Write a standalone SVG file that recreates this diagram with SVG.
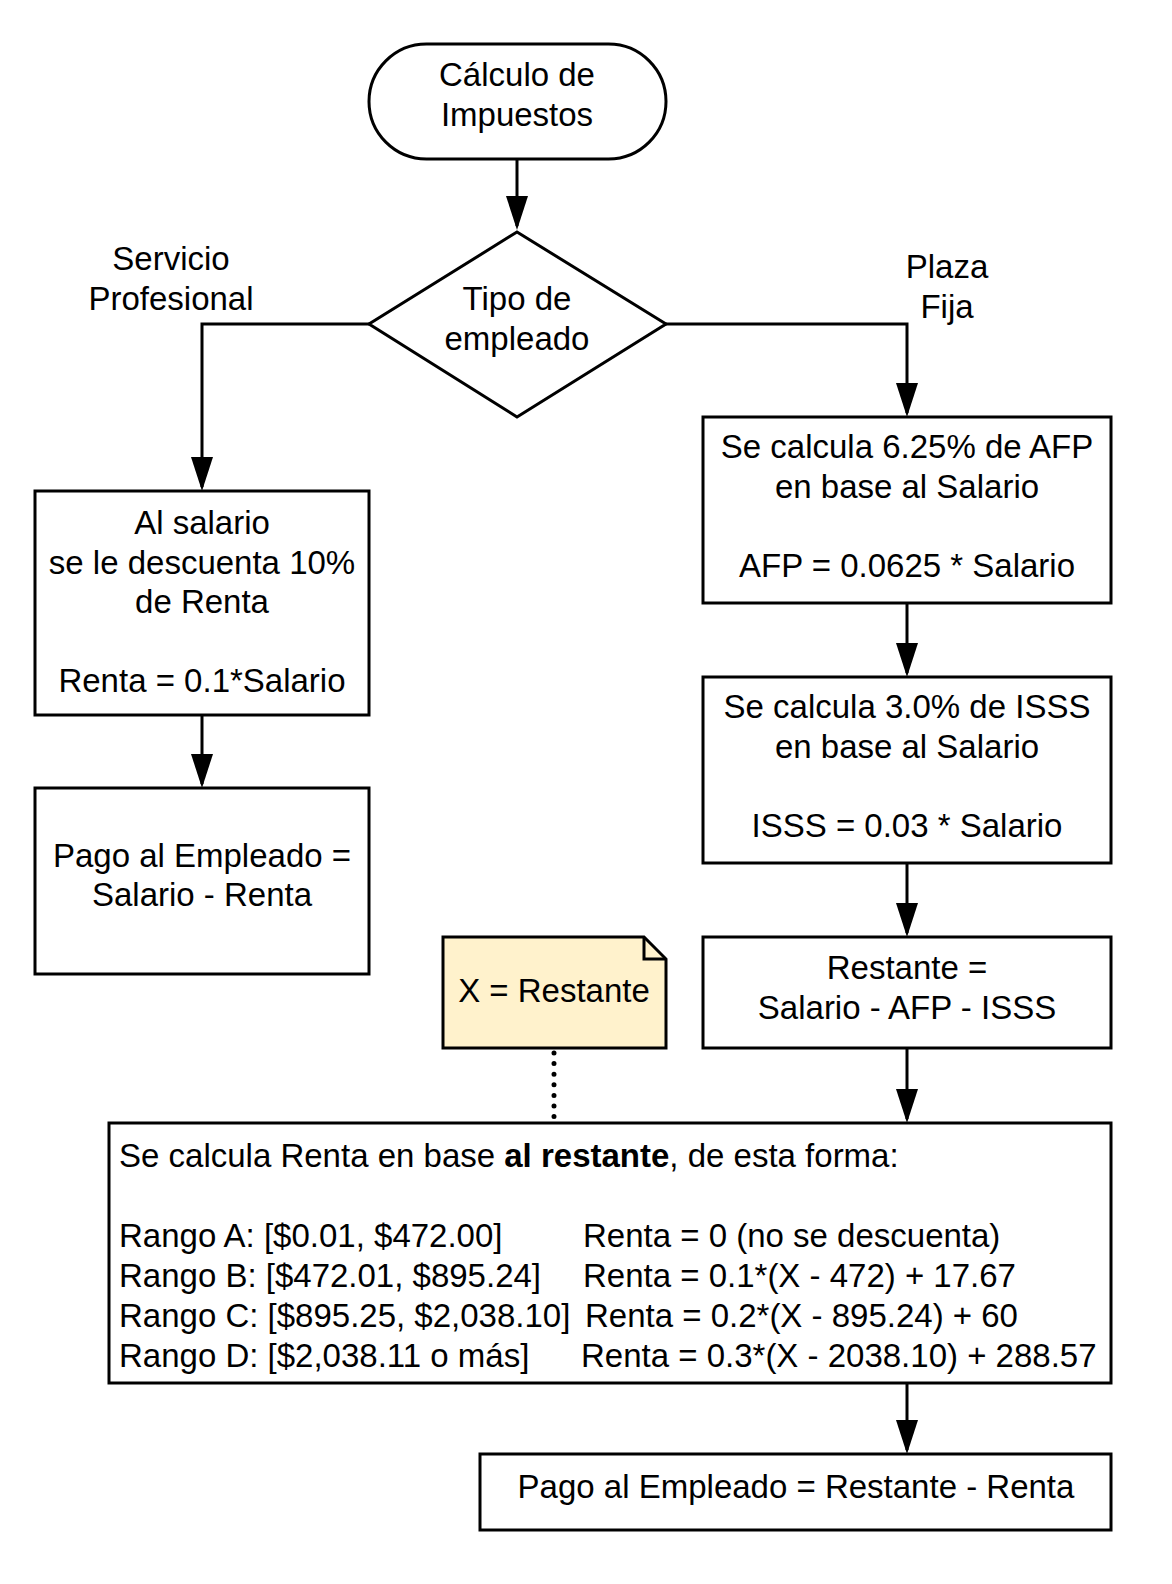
<svg xmlns="http://www.w3.org/2000/svg" width="1172" height="1584" viewBox="0 0 1172 1584">
<style>
.s{fill:#fff;stroke:#000;stroke-width:3}
.t{font-family:"Liberation Sans",Arial,sans-serif;font-size:33px;fill:#000}
.m{text-anchor:middle}
.c{fill:none;stroke:#000;stroke-width:3}
</style>
<defs>
<marker id="a" markerUnits="userSpaceOnUse" markerWidth="34" markerHeight="22" viewBox="0 0 34 22" refX="30" refY="11" orient="auto">
<path d="M0,0 L34,11 L0,22 z" fill="#000"/>
</marker>
</defs>
<rect width="1172" height="1584" fill="#fff"/>
<g id="connectors">
<line class="c" x1="517" y1="159" x2="517" y2="226" marker-end="url(#a)"/>
<polyline class="c" points="369,324 202,324 202,487" marker-end="url(#a)"/>
<polyline class="c" points="666,324 907,324 907,413" marker-end="url(#a)"/>
<line class="c" x1="202" y1="715" x2="202" y2="784" marker-end="url(#a)"/>
<line class="c" x1="907" y1="603" x2="907" y2="673" marker-end="url(#a)"/>
<line class="c" x1="907" y1="863" x2="907" y2="933" marker-end="url(#a)"/>
<line class="c" x1="907" y1="1048" x2="907" y2="1119" marker-end="url(#a)"/>
<line class="c" x1="907" y1="1383" x2="907" y2="1450" marker-end="url(#a)"/>
<line x1="554" y1="1053" x2="554" y2="1123" stroke="#000" stroke-width="5" stroke-linecap="round" stroke-dasharray="0 10.6"/>
<text class="t m" x="171" y="270">Servicio</text>
<text class="t m" x="171" y="310">Profesional</text>
<text class="t m" x="947" y="278">Plaza</text>
<text class="t m" x="947" y="318">Fija</text>
</g>
<g id="inicio">
<rect class="s" x="369" y="44" width="297" height="115" rx="57.5" ry="57.5"/>
<text class="t m" x="517" y="86">Cálculo de</text>
<text class="t m" x="517" y="126">Impuestos</text>
</g>
<g id="tipo">
<polygon class="s" points="517,232 666,324 517,417 369,324"/>
<text class="t m" x="517" y="310">Tipo de</text>
<text class="t m" x="517" y="350">empleado</text>
</g>
<g id="renta-profesional">
<rect class="s" x="35" y="491" width="334" height="224"/>
<text class="t m" x="202" y="534">Al salario</text>
<text class="t m" x="202" y="574">se le descuenta 10%</text>
<text class="t m" x="202" y="613">de Renta</text>
<text class="t m" x="202" y="692">Renta = 0.1*Salario</text>
</g>
<g id="pago-profesional">
<rect class="s" x="35" y="788" width="334" height="186"/>
<text class="t m" x="202" y="867">Pago al Empleado =</text>
<text class="t m" x="202" y="906">Salario - Renta</text>
</g>
<g id="afp">
<rect class="s" x="703" y="417" width="408" height="186"/>
<text class="t m" x="907" y="458">Se calcula 6.25% de AFP</text>
<text class="t m" x="907" y="498">en base al Salario</text>
<text class="t m" x="907" y="577">AFP = 0.0625 * Salario</text>
</g>
<g id="isss">
<rect class="s" x="703" y="677" width="408" height="186"/>
<text class="t m" x="907" y="718">Se calcula 3.0% de ISSS</text>
<text class="t m" x="907" y="758">en base al Salario</text>
<text class="t m" x="907" y="837">ISSS = 0.03 * Salario</text>
</g>
<g id="restante">
<rect class="s" x="703" y="937" width="408" height="111"/>
<text class="t m" x="907" y="979">Restante =</text>
<text class="t m" x="907" y="1019">Salario - AFP - ISSS</text>
</g>
<g id="nota">
<path d="M443,937 H644 L666,959 V1048 H443 Z" fill="#fff2cc" stroke="#000" stroke-width="3"/>
<path d="M644,937 V959 H666" fill="none" stroke="#000" stroke-width="3"/>
<text class="t m" x="554" y="1002">X = Restante</text>
</g>
<g id="renta-rangos">
<rect class="s" x="109" y="1123" width="1002" height="260"/>
<text class="t" x="119" y="1167">Se calcula Renta en base <tspan font-weight="bold">al restante</tspan>, de esta forma:</text>
<text class="t" x="119" y="1247">Rango A: [$0.01, $472.00]</text>
<text class="t" x="583" y="1247">Renta = 0 (no se descuenta)</text>
<text class="t" x="119" y="1287">Rango B: [$472.01, $895.24]</text>
<text class="t" x="583" y="1287">Renta = 0.1*(X - 472) + 17.67</text>
<text class="t" x="119" y="1327">Rango C: [$895.25, $2,038.10]</text>
<text class="t" x="585" y="1327">Renta = 0.2*(X - 895.24) + 60</text>
<text class="t" x="119" y="1367">Rango D: [$2,038.11 o más]</text>
<text class="t" x="581" y="1367">Renta = 0.3*(X - 2038.10) + 288.57</text>
</g>
<g id="pago-plaza">
<rect class="s" x="480" y="1454" width="631" height="76"/>
<text class="t m" x="796" y="1498">Pago al Empleado = Restante - Renta</text>
</g>
</svg>
